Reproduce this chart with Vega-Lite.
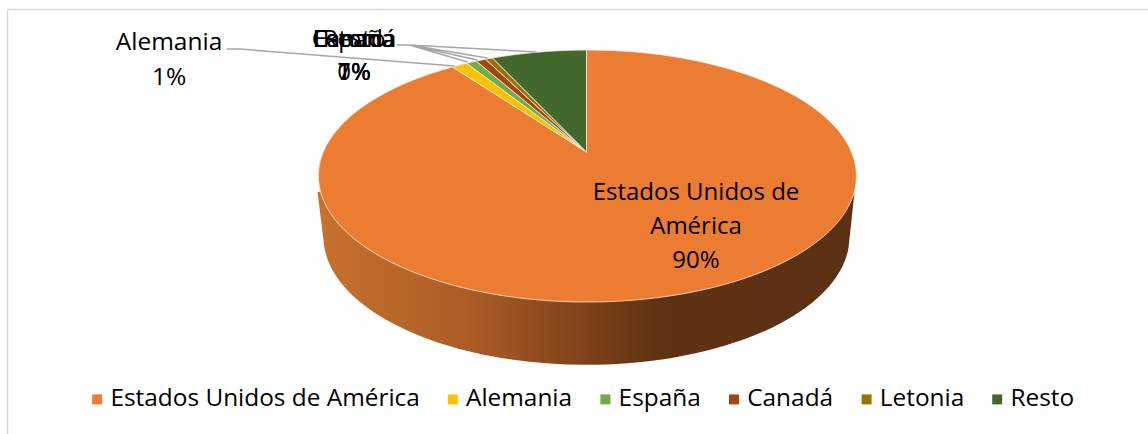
{
"$schema":"https://vega.github.io/schema/vega-lite/v6.json",
"width":1148,"height":434,"padding":0,"autosize":{"type":"none"},"background":"white",
"config":{"view":{"stroke":null},"text":{"font":"Open Sans"}},
"data":{"values":[
{"pais":"Estados Unidos de América","pct":90,"etiqueta":"Estados Unidos de\nAmérica\n90%"},
{"pais":"Alemania","pct":1,"etiqueta":"Alemania\n1%"},
{"pais":"España","pct":1,"etiqueta":"España\n1%"},
{"pais":"Canadá","pct":1,"etiqueta":"Canadá\n1%"},
{"pais":"Letonia","pct":0,"etiqueta":"Letonia\n0%"},
{"pais":"Resto","pct":7,"etiqueta":"Resto\n7%"}
]},
"encoding":{
"x":{"datum":586.5,"type":"quantitative","scale":{"domain":[0,1148],"nice":false,"zero":false},"axis":null},
"y":{"datum":152,"type":"quantitative","scale":{"domain":[434,0],"nice":false,"zero":false},"axis":null}
},
"layer":[
{"data":{"values":[{"pieza":"lateral"}]},
"mark":{"type":"point","opacity":1,"filled":true,"size":4,"strokeWidth":0,
"shape":"M-269,40 L-262,96 A263,128 0 0 0 262,96 L268,40 L0,0 Z",
"fill":{"gradient":"linear","x1":0,"y1":0,"x2":1,"y2":0,"stops":[{"offset":0,"color":"#c8722f"},{"offset":0.28,"color":"#ac5c25"},{"offset":0.5,"color":"#7e421a"},{"offset":0.64,"color":"#5f3213"},{"offset":1,"color":"#5c3013"}]}}},
{"mark":{"type":"point","opacity":1,"filled":true,"size":4,"stroke":"#fbeee3","strokeWidth":0.8},
"encoding":{
"fill":{"field":"pais","type":"nominal","scale":{"domain":["Estados Unidos de América","Alemania","España","Canadá","Letonia","Resto"],"range":["#EB7C32","#FFC000","#70AD47","#9E480E","#997300","#43682B"]},
"legend":{"title":null,"orient":"none","legendX":85,"legendY":387,"direction":"horizontal","symbolType":"square","symbolSize":100,"symbolStrokeWidth":0,"labelFont":"Open Sans","labelFontSize":24.4,"labelColor":"#000","labelOffset":1,"labelLimit":400,"columnPadding":20.6}},
"shape":{"field":"pais","type":"nominal","legend":null,"scale":{"domain":["Resto","Letonia","Canadá","España","Alemania","Estados Unidos de América"],"range":[
"M0,0 L-94,-94 A269,126 0 0 1 0,-102 Z",
"M0,0 L-101,-92.8 A269,126 0 0 1 -94,-94 Z",
"M0,0 L-110.3,-90.9 A269,126 0 0 1 -101,-92.8 Z",
"M0,0 L-120,-88.8 A269,126 0 0 1 -110.3,-90.9 Z",
"M0,0 L-134,-85 A269,126 0 0 1 -120,-88.8 Z",
"M0,0 L0,-102 A269,126 0 1 1 -134,-85 Z"]}}
}},
{"data":{"values":[{"pieza":"guias"}]},
"mark":{"type":"point","opacity":1,"filled":false,"size":4,"stroke":"#a6a6a6","strokeWidth":1.5,
"shape":"M-360,-103 L-347,-103 L-132,-86 M-190,-107 L-177,-107 L-119,-90 M-177,-107 L-109,-92 M-177,-107 L-99,-94 M-177,-107 L-50,-100"}},
{"transform":[{"filter":"datum.pais==='Alemania'"}],"mark":{"type":"text","lineBreak":"\n","lineHeight":35,"fontSize":24.5,"font":"Open Sans","baseline":"middle"},"encoding":{"text":{"field":"etiqueta"},"x":{"datum":169},"y":{"datum":43}}},
{"transform":[{"filter":"datum.pais==='Estados Unidos de América'"}],"mark":{"type":"text","lineBreak":"\n","lineHeight":34,"fontSize":24,"font":"Open Sans","baseline":"middle"},"encoding":{"text":{"field":"etiqueta"},"x":{"datum":696},"y":{"datum":193}}},
{"transform":[{"filter":"datum.pais==='España'||datum.pais==='Canadá'||datum.pais==='Letonia'||datum.pais==='Resto'"}],"mark":{"type":"text","lineBreak":"\n","lineHeight":33,"fontSize":24,"font":"Open Sans","baseline":"middle"},"encoding":{"text":{"field":"etiqueta"},"x":{"datum":354},"y":{"datum":40}}},
{"data":{"values":[{"pieza":"borde"}]},"mark":{"type":"rule","color":"#d9d9d9","strokeWidth":1.5},"encoding":{"x":{"datum":7.5},"x2":{"datum":1148},"y":{"datum":9.5}}},
{"data":{"values":[{"pieza":"borde"}]},"mark":{"type":"rule","color":"#d9d9d9","strokeWidth":1.5},"encoding":{"x":{"datum":7.5},"y":{"datum":9.5},"y2":{"datum":434}}}
]
}
